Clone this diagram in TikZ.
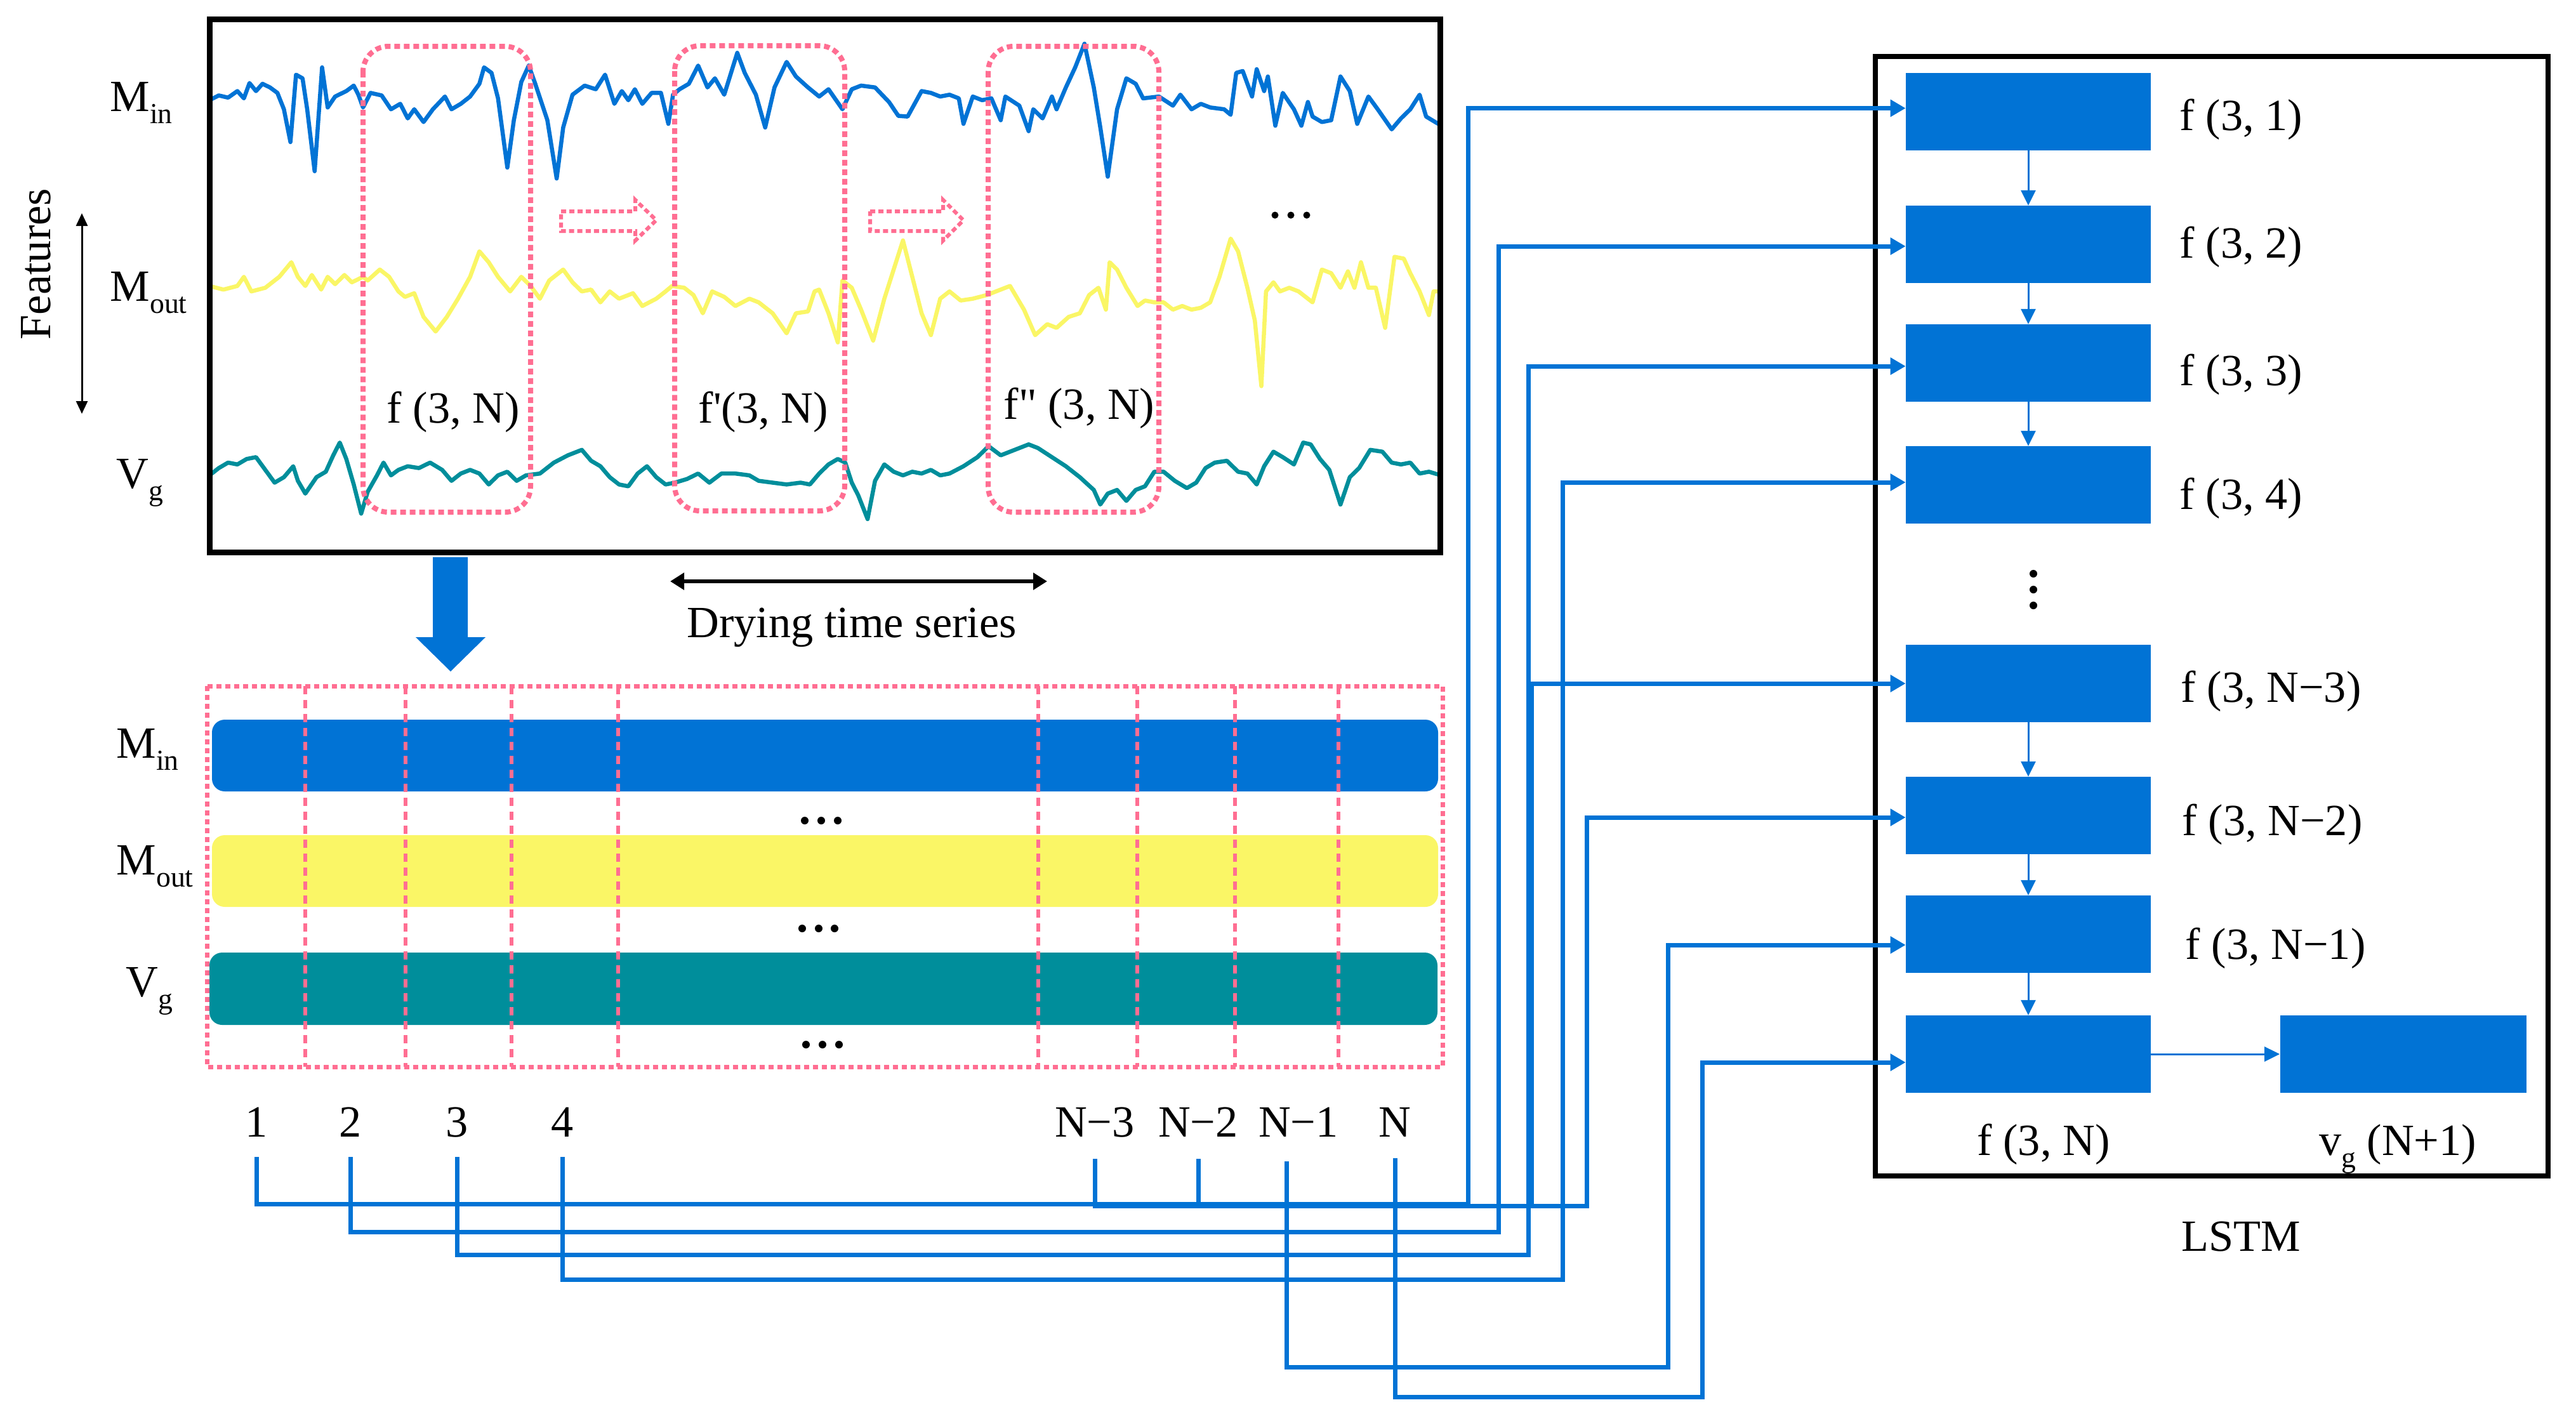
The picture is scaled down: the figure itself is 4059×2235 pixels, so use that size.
\documentclass[tikz,border=0pt]{standalone}
\usepackage{fontspec}
\setmainfont{Liberation Serif}
\newfontfamily\rawserif{Liberation Serif}
\usetikzlibrary{arrows.meta}
\definecolor{myblue}{RGB}{1,115,213}
\definecolor{myyellow}{RGB}{250,246,102}
\definecolor{myteal}{RGB}{0,142,155}
\definecolor{mypink}{RGB}{255,110,146}
\newcommand\lsub[1]{\raisebox{-5.5pt}{\fontsize{13}{13}\selectfont #1}}
\begin{document}
\begin{tikzpicture}[x=0.01cm,y=-0.01cm,
  txt/.style={inner sep=0pt, font=\fontsize{20}{24}\selectfont},
  blk/.style={fill=myblue, minimum width=3.85cm, minimum height=1.21cm, inner sep=0pt},
  conn/.style={draw=myblue, line width=0.07cm, -{Triangle[length=0.24cm,width=0.26cm]}},
  bus/.style={draw=myblue, line width=0.07cm},
  flow/.style={draw=myblue, line width=0.03cm, -{Triangle[length=0.24cm,width=0.23cm]}},
  curve/.style={line width=0.065cm, line join=round},
  pinkbox/.style={draw=mypink, line width=0.08cm, dash pattern=on 0.09cm off 0.06cm},
  pinkgrid/.style={draw=mypink, line width=0.06cm, dash pattern=on 0.13cm off 0.09cm},
  frame/.style={draw=black, line width=0.09cm},
  bar/.style={rounded corners=0.2cm}
]
\useasboundingbox (0,0) rectangle (4059,2235);

% ---------------- top time-series panel ----------------
\begin{scope}[xscale=1.4668, yscale=0.57398]
\draw[curve, myblue] plot coordinates {(225,275) (235,262) (245,268) (255,250) (262,270) (268,228) (275,250) (282,230) (290,240) (298,255) (305,300) (312,390) (318,205) (325,215) (330,300) (338,470) (346,185) (352,295) (360,265) (372,250) (380,235) (385,260) (390,295) (398,255) (410,262) (420,300) (430,285) (438,325) (445,300) (455,335) (465,300) (478,265) (485,300) (495,285) (505,265) (515,230) (520,185) (528,200) (535,270) (545,460) (552,330) (560,225) (568,180) (575,230) (588,330) (598,490) (605,350) (615,260) (628,235) (640,245) (650,205) (660,285) (668,250) (675,275) (682,245) (690,285) (700,255) (710,255) (718,340) (723,260) (730,245) (740,230) (750,180) (760,240) (768,215) (778,260) (792,145) (800,200) (812,260) (822,350) (832,240) (845,170) (855,210) (868,240) (880,265) (890,245) (905,300) (915,245) (925,235) (940,240) (955,280) (965,318) (975,320) (990,250) (1000,255) (1010,265) (1020,260) (1030,270) (1035,340) (1045,265) (1055,275) (1065,270) (1075,330) (1080,265) (1095,290) (1105,360) (1110,300) (1120,325) (1130,265) (1135,300) (1145,240) (1155,185) (1165,120) (1175,240) (1182,350) (1190,485) (1200,300) (1210,215) (1220,230) (1228,270) (1245,265) (1260,290) (1268,260) (1280,300) (1290,285) (1300,295) (1315,300) (1322,315) (1328,200) (1335,195) (1345,265) (1350,190) (1358,250) (1362,210) (1370,345) (1378,255) (1390,300) (1398,345) (1405,280) (1410,320) (1420,335) (1430,330) (1440,210) (1450,250) (1458,340) (1470,265) (1480,300) (1495,355) (1505,325) (1515,300) (1525,260) (1532,320) (1545,340)};
\draw[curve, myyellow] plot coordinates {(225,785) (240,795) (255,785) (262,760) (270,800) (285,790) (300,760) (313,720) (320,760) (328,785) (335,755) (345,795) (352,760) (360,780) (370,755) (378,775) (390,760) (395,770) (408,740) (418,760) (428,800) (435,815) (445,805) (455,870) (468,910) (480,870) (492,820) (505,760) (515,690) (525,720) (535,760) (548,800) (560,760) (570,785) (580,820) (590,770) (605,740) (615,775) (625,800) (635,795) (645,830) (655,800) (665,820) (680,805) (690,840) (705,820) (715,800) (722,785) (735,790) (745,810) (755,860) (765,800) (778,815) (790,840) (805,820) (815,830) (830,860) (845,915) (855,860) (868,855) (875,800) (880,795) (890,860) (900,940) (905,770) (915,790) (925,850) (938,935) (950,820) (960,740) (970,660) (980,760) (990,860) (1000,920) (1010,820) (1020,800) (1032,825) (1045,820) (1060,810) (1070,800) (1085,785) (1100,850) (1112,920) (1125,890) (1135,900) (1148,870) (1160,860) (1170,810) (1180,790) (1188,850) (1192,720) (1200,740) (1210,790) (1222,840) (1230,825) (1240,830) (1250,830) (1260,850) (1270,840) (1280,850) (1290,845) (1300,830) (1310,760) (1322,655) (1330,690) (1340,790) (1348,880) (1355,1060) (1360,800) (1368,775) (1375,800) (1385,790) (1395,800) (1410,830) (1420,740) (1430,750) (1440,790) (1448,745) (1455,790) (1462,720) (1470,790) (1478,790) (1488,900) (1498,705) (1508,710) (1515,750) (1525,800) (1535,865) (1540,800) (1548,800)};
\draw[curve, myteal] plot coordinates {(225,1305) (235,1285) (245,1270) (255,1275) (265,1260) (275,1255) (285,1290) (295,1325) (305,1310) (315,1280) (320,1320) (328,1355) (340,1310) (350,1295) (358,1250) (365,1215) (372,1260) (380,1330) (388,1410) (395,1350) (405,1305) (412,1270) (420,1305) (428,1290) (438,1280) (450,1285) (462,1270) (475,1290) (485,1320) (495,1300) (505,1290) (515,1300) (525,1330) (535,1305) (545,1295) (555,1320) (565,1305) (580,1300) (595,1270) (610,1250) (625,1235) (635,1265) (645,1280) (655,1310) (665,1330) (675,1335) (685,1300) (695,1280) (705,1310) (715,1330) (725,1325) (738,1315) (750,1300) (762,1325) (775,1300) (790,1300) (805,1305) (815,1320) (830,1325) (845,1330) (860,1325) (870,1330) (880,1300) (890,1275) (900,1260) (908,1270) (915,1325) (922,1360) (932,1425) (940,1320) (950,1275) (960,1295) (970,1305) (980,1295) (990,1300) (1000,1290) (1010,1305) (1020,1300) (1035,1280) (1050,1255) (1062,1225) (1075,1250) (1090,1235) (1105,1220) (1115,1230) (1130,1255) (1145,1280) (1160,1310) (1175,1345) (1182,1385) (1190,1355) (1200,1345) (1210,1375) (1220,1345) (1230,1335) (1240,1295) (1250,1295) (1262,1320) (1275,1340) (1285,1325) (1295,1285) (1305,1270) (1318,1265) (1330,1295) (1340,1300) (1350,1330) (1358,1280) (1368,1240) (1378,1255) (1390,1275) (1400,1215) (1408,1220) (1418,1260) (1428,1290) (1440,1385) (1450,1310) (1460,1285) (1472,1235) (1485,1240) (1495,1270) (1505,1275) (1515,1270) (1525,1300) (1535,1295) (1548,1305)};
\end{scope}

\draw[frame] (330,30) rectangle (2269,870);

% sliding windows
\draw[pinkbox, rounded corners=0.4cm] (572,73) rectangle (836,807);
\draw[pinkbox, rounded corners=0.4cm] (1063,72) rectangle (1331,805);
\draw[pinkbox, rounded corners=0.4cm] (1557,73) rectangle (1826,807);
\draw[draw=mypink, line width=0.06cm, dash pattern=on 0.08cm off 0.05cm]
  (884,333) -- (1001,333) -- (1001,315) -- (1034,347) -- (1001,379) -- (1001,364) -- (884,364) -- cycle;
\draw[draw=mypink, line width=0.06cm, dash pattern=on 0.08cm off 0.05cm]
  (1371,333) -- (1486,333) -- (1486,315) -- (1518,347) -- (1486,379) -- (1486,364) -- (1371,364) -- cycle;

\node[txt, anchor=base west] (fw1) at (609,666) {f (3, N)};
\node[txt, anchor=base west] (fw2) at (1100,666) {f{\rawserif '}(3, N)};
\node[txt, anchor=base west] (fw3) at (1581,660) {f{\rawserif "} (3, N)};

\fill (2009,339) circle (0.055cm) (2034,339) circle (0.055cm) (2059,339) circle (0.055cm);

\node[txt, anchor=base west] (lmin) at (173,175) {M\lsub{in}};
\node[txt, anchor=base west] (lmout) at (173,474) {M\lsub{out}};
\node[txt, anchor=base west] (lvg) at (183,769) {V\lsub{g}};
\node[txt, rotate=90] (feat) at (57,416) {Features};
\draw[line width=0.03cm, {Triangle[length=0.2cm,width=0.18cm]}-{Triangle[length=0.2cm,width=0.18cm]}] (129,336) -- (129,652);

% down block arrow
\fill[myblue] (682,878) -- (737,878) -- (737,1004) -- (765,1004) -- (710,1058) -- (655,1004) -- (682,1004) -- cycle;

% drying time series
\draw[line width=0.06cm, {Triangle[length=0.22cm,width=0.26cm]}-{Triangle[length=0.22cm,width=0.26cm]}] (1056,916) -- (1650,916);
\node[txt, anchor=base] (dry) at (1342,1004) {Drying time series};

% ---------------- bottom matrix ----------------
\fill[myblue, bar] (334,1134) rectangle (2266,1247);
\fill[myyellow, bar] (334,1316) rectangle (2266,1429);
\fill[myteal, bar] (330,1501) rectangle (2265,1615);
\foreach \gx in {481,639,806,974,1636,1792,1946,2109}
  \draw[pinkgrid] (\gx,1081) -- (\gx,1681);
\draw[pinkbox, line width=0.07cm, dash pattern=on 0.08cm off 0.06cm] (326,1081) rectangle (2273,1681);

\fill (1268,1293) circle (0.06cm) (1294,1293) circle (0.06cm) (1320,1293) circle (0.06cm);
\fill (1264,1463) circle (0.06cm) (1290,1463) circle (0.06cm) (1315,1463) circle (0.06cm);
\fill (1270,1646) circle (0.06cm) (1296,1646) circle (0.06cm) (1322,1646) circle (0.06cm);

\node[txt, anchor=base west] (bmin) at (183,1194) {M\lsub{in}};
\node[txt, anchor=base west] (bmout) at (183,1378) {M\lsub{out}};
\node[txt, anchor=base west] (bvg) at (198,1570) {V\lsub{g}};

\node[txt, anchor=base] (l1) at (404,1791) {1};
\node[txt, anchor=base] (l2) at (552,1791) {2};
\node[txt, anchor=base] (l3) at (720,1791) {3};
\node[txt, anchor=base] (l4) at (886,1791) {4};
\node[txt, anchor=base] (ln3) at (1725,1791) {N−3};
\node[txt, anchor=base] (ln2) at (1888,1791) {N−2};
\node[txt, anchor=base] (ln1) at (2046,1791) {N−1};
\node[txt, anchor=base] (ln) at (2198,1791) {N};

% ---------------- LSTM ----------------
\draw[frame, line width=0.08cm] (2955,89) rectangle (4015,1853);
\node[blk] (b1) at (3196,176) {};
\node[blk] (b2) at (3196,385) {};
\node[blk] (b3) at (3196,572) {};
\node[blk] (b4) at (3196,764) {};
\node[blk] (bn3) at (3196,1077) {};
\node[blk] (bn2) at (3196,1285) {};
\node[blk] (bn1) at (3196,1472) {};
\node[blk] (bn) at (3196,1661) {};
\node[blk, minimum width=3.88cm] (out) at (3787,1661) {};

\draw[flow] (b1) -- (b2);
\draw[flow] (b2) -- (b3);
\draw[flow] (b3) -- (b4);
\draw[flow] (bn3) -- (bn2);
\draw[flow] (bn2) -- (bn1);
\draw[flow] (bn1) -- (bn);
\draw[flow] (bn) -- (out);

\fill (3204,904) circle (0.06cm) (3204,929) circle (0.06cm) (3204,954) circle (0.06cm);

\node[txt, anchor=base west] (t1) at (3434,205) {f (3, 1)};
\node[txt, anchor=base west] (t2) at (3434,406) {f (3, 2)};
\node[txt, anchor=base west] (t3) at (3434,607) {f (3, 3)};
\node[txt, anchor=base west] (t4) at (3434,802) {f (3, 4)};
\node[txt, anchor=base west] (tn3) at (3436,1106) {f (3, N−3)};
\node[txt, anchor=base west] (tn2) at (3438,1316) {f (3, N−2)};
\node[txt, anchor=base west] (tn1) at (3443,1511) {f (3, N−1)};
\node[txt, anchor=base] (tn) at (3220,1820) {f (3, N)};
\node[txt, anchor=base] (tout) at (3778,1820) {v\lsub{g} (N+1)};
\node[txt, anchor=base] (lstm) at (3531,1971) {LSTM};

% ---------------- connectors ----------------
\draw[conn] ([yshift=-0.32cm]l1.base) |- (2313,1897) |- ([yshift=0.055cm]b1.west);
\draw[conn] ([yshift=-0.32cm]l2.base) |- (2361,1941) |- ([yshift=-0.03cm]b2.west);
\draw[conn] ([yshift=-0.32cm]l3.base) |- (2408,1977) |- ([yshift=-0.05cm]b3.west);
\draw[conn] ([yshift=-0.32cm]l4.base) |- (2462,2016) |- ([yshift=0.04cm]b4.west);
\draw[conn] ([yshift=-0.35cm]ln3.base) |- (2500,1900) |- ([yshift=-0.03cm]bn2.west);
\draw[bus] ([yshift=-0.35cm]ln2.base) -- ++(0,74);
\coordinate (busj) at (2413,1900);
\draw[conn] (busj) |- (bn3.west);
\draw[conn] ([xshift=-0.19cm,yshift=-0.39cm]ln1.base) |- (2628,2154) |- ([yshift=-0.17cm]bn1.west);
\draw[conn] ([yshift=-0.34cm]ln.base) |- (2682,2201) |- ([yshift=-0.13cm]bn.west);
\end{tikzpicture}
\end{document}
